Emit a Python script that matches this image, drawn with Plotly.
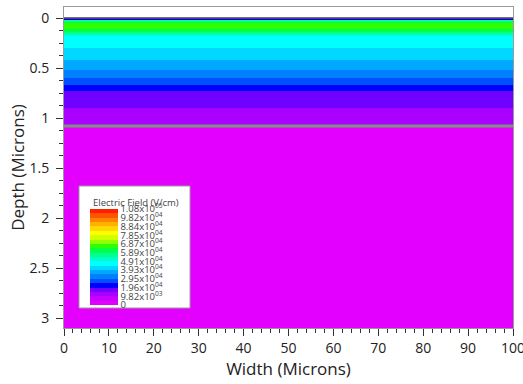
import plotly.graph_objects as go

# ---- data ----
width_edges = [0, 100]
depth_edges = [0, 0.01, 0.02, 0.035, 0.05, 0.11, 0.14, 0.16, 0.18, 0.30, 0.42,
               0.52, 0.60, 0.67, 0.73, 0.90, 1.07, 3.1]
field_vals = [12000, 24000, 56000, 63000, 66000, 62000, 56000, 51000, 47000, 42000,
              37000, 32000, 27000, 22000, 17000, 12000, 0]
legend_vals = [0, 9820, 19640, 29460, 39280, 49100, 58920, 68740, 78560, 88380, 98200, 108020]
legend_text = ["0", "9.82x10<sup>03</sup>", "1.96x10<sup>04</sup>", "2.95x10<sup>04</sup>",
               "3.93x10<sup>04</sup>", "4.91x10<sup>04</sup>", "5.89x10<sup>04</sup>",
               "6.87x10<sup>04</sup>", "7.85x10<sup>04</sup>", "8.84x10<sup>04</sup>",
               "9.82x10<sup>04</sup>", "1.08x10<sup>05</sup>"]
x_tickvals = [0, 10, 20, 30, 40, 50, 60, 70, 80, 90, 100]
y_tickvals = [0, 0.5, 1, 1.5, 2, 2.5, 3]
y_ticktext = ["0", "0.5", "1", "1.5", "2", "2.5", "3"]

band_colors = ["#e400ff", "#c800ff", "#aa00ff", "#7000ff", "#0000ff", "#0050ff",
               "#0080ff", "#00a8ff", "#00d8ff", "#00ffff", "#00ffc8", "#00ff90",
               "#00ff48", "#30ff00", "#90ff00", "#d0ff00", "#ffff00", "#ffd800",
               "#ffb000", "#ff8400", "#ff5400", "#ff2000"]

# discrete colorscale
n = len(band_colors)
cs = []
for i, c in enumerate(band_colors):
    cs.append([i / n, c])
    cs.append([(i + 1) / n, c])

z = [[v] for v in field_vals]

L, R, T, B = 64, 10, 7, 56
W, H = 523, 384
pw, ph = W - L - R, H - T - B

def px(xp):
    return (xp - L) / pw

def py(yp):
    return (H - B - yp) / ph

fig = go.Figure(go.Heatmap(
    x=width_edges, y=depth_edges, z=z, zmin=0, zmax=legend_vals[-1],
    colorscale=cs, zsmooth=False, hoverinfo="skip",
    colorbar=dict(
        x=px(90), xanchor="left", y=py(305), yanchor="bottom",
        lenmode="pixels", len=96, thicknessmode="pixels", thickness=28,
        bgcolor="rgba(0,0,0,0)", borderwidth=0, outlinewidth=0,
        xpad=0, ypad=0, ticklabelposition="outside",
        tickvals=legend_vals, ticktext=legend_text, ticks="",
        tickfont=dict(size=9.5, color="#444", family="Open Sans"),
    ),
))

# legend frame and title
fig.add_shape(type="rect", xref="paper", yref="paper", x0=px(79), x1=px(190),
              y0=py(308), y1=py(186), fillcolor="white", line=dict(color="#999", width=1),
              layer="above")
fig.add_annotation(xref="paper", yref="paper", x=px(136), y=py(202), text="Electric Field (V/cm)",
                   showarrow=False, xanchor="center", yanchor="middle",
                   font=dict(size=9.5, color="#444", family="Open Sans"))

# region boundary lines
fig.add_shape(type="line", xref="x", yref="y", x0=0, x1=100, y0=0, y1=0,
              line=dict(color="#444", width=1.5))
fig.add_shape(type="line", xref="x", yref="y", x0=0, x1=100, y0=1.08, y1=1.08,
              line=dict(color="#7f8f80", width=3))

fig.update_layout(
    width=W, height=H, margin=dict(l=L, r=R, t=T, b=B, autoexpand=False),
    paper_bgcolor="white", plot_bgcolor="white",
    font=dict(family="Open Sans", color="#222"),
    xaxis=dict(range=[0, 100], tickvals=x_tickvals, ticks="outside", automargin=False,
               ticklen=7, tickcolor="#333", tickwidth=1, ticklabeloverflow="allow",
               minor=dict(dtick=2, ticks="outside", ticklen=4, tickcolor="#333"),
               showline=True, linecolor="#999", mirror=True, showgrid=False, zeroline=False,
               tickfont=dict(size=14), title=dict(text="Width (Microns)", font=dict(size=17), standoff=2)),
    yaxis=dict(range=[3.1, -0.11], tickvals=y_tickvals, ticktext=y_ticktext, ticks="outside",
               automargin=False,
               ticklen=7, tickcolor="#333", tickwidth=1,
               minor=dict(dtick=0.125, tick0=0, ticks="outside", ticklen=4, tickcolor="#333"),
               showline=True, linecolor="#999", mirror=True, showgrid=False, zeroline=False,
               ticklabelstandoff=4,
               tickfont=dict(size=14), title=dict(text="Depth (Microns)", font=dict(size=17), standoff=0)),
)

fig.write_html("out.html")
